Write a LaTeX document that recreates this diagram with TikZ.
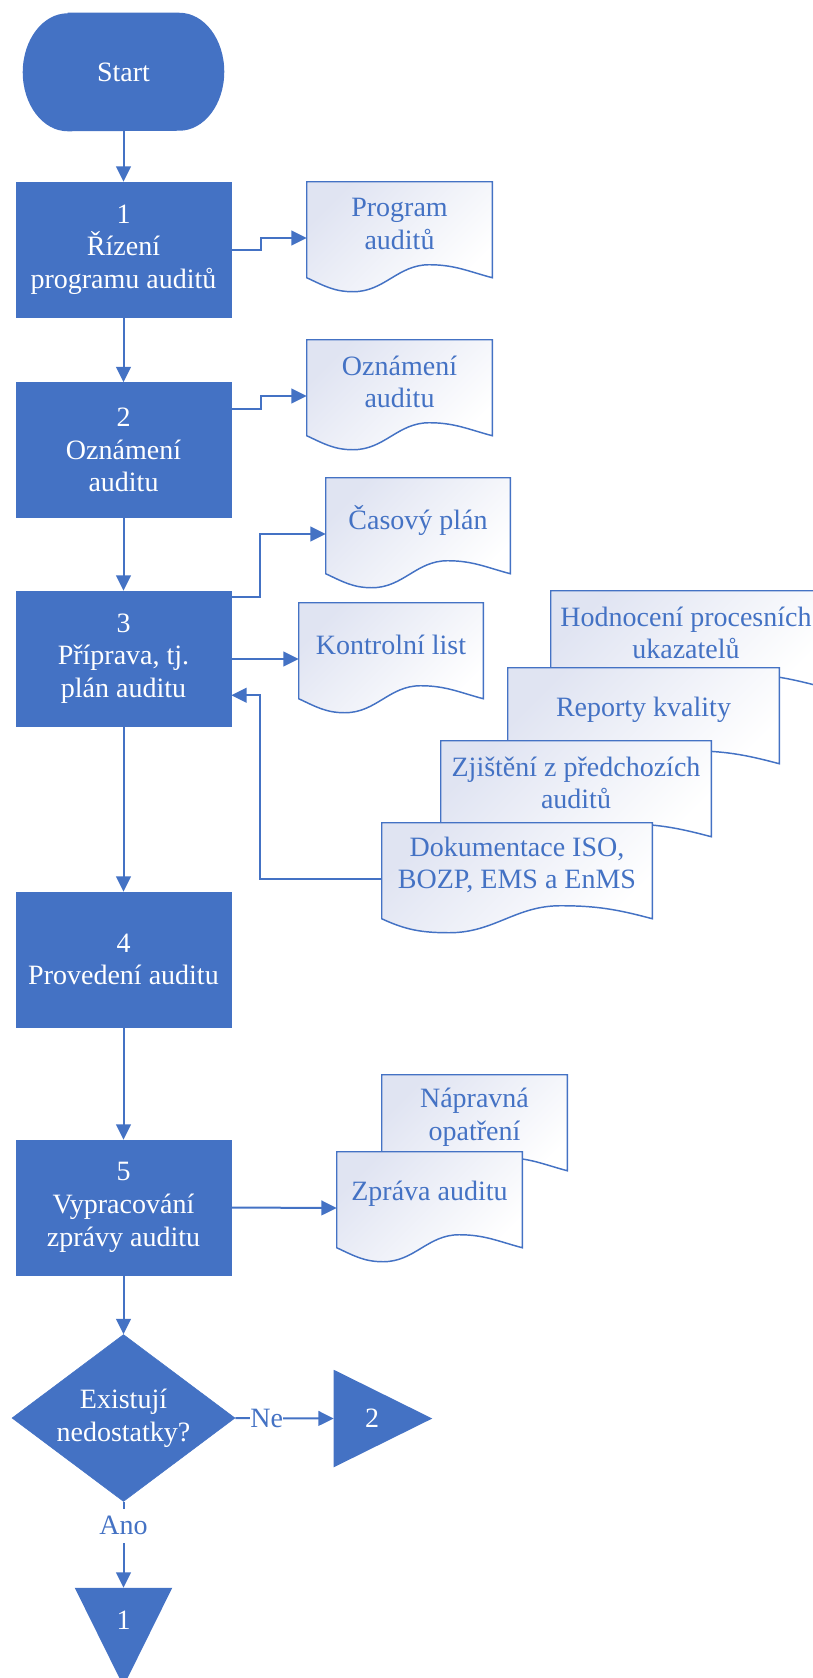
\documentclass[tikz,border=0pt]{standalone}
\usepackage{fontspec}
\setmainfont{Liberation Serif}
\usetikzlibrary{arrows.meta,calc,shapes.geometric}
\definecolor{mainblue}{HTML}{4472C4}
\definecolor{docfill}{HTML}{E0E4F2}
\tikzset{
  base/.style={font=\fontsize{21}{24.5}\selectfont, align=center},
  proc/.style={base, rectangle, fill=mainblue, draw=mainblue, text=white,
    minimum width=161.25pt, minimum height=101.25pt, inner sep=2pt},
  termbox/.style={rectangle, inner sep=0pt, minimum width=150.75pt, minimum height=88.5pt},
  decision/.style={base, diamond, fill=mainblue, draw=mainblue, text=white,
    minimum width=167.25pt, minimum height=125.25pt, inner sep=0pt, shape aspect=1.335},
  docbox/.style={rectangle, minimum width=#1, minimum height=84pt, inner sep=0pt},
  docline/.style={draw=mainblue, line width=1.1pt, top color=docfill,
    bottom color=white, shading angle=45},
  doctext/.style={base, text=mainblue, inner sep=0pt},
  conn/.style={draw=mainblue, line width=1.5pt, -{Triangle[length=11.5pt,width=11pt]}},
  lbl/.style={base, text=mainblue, fill=white, inner sep=0pt},
  tribox/.style={rectangle, inner sep=0pt},
  numtext/.style={base, text=white, inner sep=0pt},
}
\newcommand\docshape[1]{%
  \draw[docline] (#1.north west) -- (#1.north east) -- ($(#1.north east)+(0,96)$)
    to[out=165,in=0] ($(#1.north west)!0.66!(#1.north east)+(0,83)$)
    to[out=180,in=0] ($(#1.north west)!0.25!(#1.north east)+(0,110)$)
    to[out=180,in=-25] ($(#1.north west)+(0,96)$) -- cycle;}
\begin{document}
\begin{tikzpicture}[x=0.75pt,y=-0.75pt]
\useasboundingbox (0,0) rectangle (813,1678);
\clip (0,0) rectangle (813,1678);

% terminal
\node[termbox] (st) at (123.5,72) {};
\fill[mainblue] ($(st.north west)+(45,0)$) -- ($(st.north east)+(-45,0)$)
  arc[start angle=90, end angle=-90, x radius=33.75pt, y radius=44.25pt]
  -- ($(st.south west)+(45,0)$)
  arc[start angle=270, end angle=90, x radius=33.75pt, y radius=44.25pt] -- cycle;
\node[numtext] (stt) at (st.center) {Start};

% main flow
\node[proc] (b1) at (123.5,249.5) {1\\Řízení\\programu auditů};
\node[proc] (b2) at (123.5,450) {2\\Oznámení\\auditu};
\node[proc] (b3) at (123.5,658.5) {3\\Příprava, tj.\\plán auditu};
\node[proc] (b4) at (123.5,959.5) {4\\Provedení auditu};
\node[proc] (b5) at (123.5,1207.5) {5\\Vypracování\\zprávy auditu};
\node[decision] (dia) at (123.5,1418) {Existují\\nedostatky?};

% off-page connectors
\node[tribox, minimum width=73.5pt, minimum height=72.75pt] (t2) at (383,1418.5) {};
\fill[mainblue] (t2.north west) -- (t2.east) -- (t2.south west) -- cycle;
\node[numtext] (t2t) at ([xshift=-8.25pt]t2.center) {2};
\node[tribox, minimum width=72.75pt, minimum height=73.5pt] (t1) at (123.5,1637) {};
\fill[mainblue] (t1.north west) -- (t1.north east) -- (t1.south) -- cycle;
\node[numtext] (t1t) at ([yshift=12.75pt]t1.center) {1};

% documents
\node[docbox=138.75pt] (d1) at (399.5,238) {};
\docshape{d1}
\node[doctext] (d1t) at ([yshift=10.5pt]d1.center) {Program\\auditů};

\node[docbox=138.75pt] (d2) at (399.5,396) {};
\docshape{d2}
\node[doctext] (d2t) at ([yshift=10.5pt]d2.center) {Oznámení\\auditu};

\node[docbox=138pt] (d3) at (418,534) {};
\docshape{d3}
\node[doctext] (d3t) at ([yshift=10.5pt]d3.center) {Časový plán};

\node[docbox=138pt] (d4) at (391,659) {};
\docshape{d4}
\node[doctext] (d4t) at ([yshift=10.5pt]d4.center) {Kontrolní list};

\node[docbox=202.5pt] (d5) at (686,647) {};
\docshape{d5}
\node[doctext] (d5t) at ([yshift=10.5pt]d5.center) {Hodnocení procesních\\ukazatelů};

\node[docbox=203.25pt] (d6) at (643.5,724) {};
\docshape{d6}
\node[doctext] (d6t) at ([yshift=10.5pt]d6.center) {Reporty kvality};

\node[docbox=202.5pt] (d7) at (576,797) {};
\docshape{d7}
\node[doctext] (d7t) at ([yshift=10.5pt]d7.center) {Zjištění z předchozích\\auditů};

\node[docbox=202.5pt] (d8) at (517,879) {};
\docshape{d8}
\node[doctext] (d8t) at ([yshift=10.5pt]d8.center) {Dokumentace ISO,\\BOZP, EMS a EnMS};

\node[docbox=138.75pt] (d9) at (474.5,1131) {};
\docshape{d9}
\node[doctext] (d9t) at ([yshift=10.5pt]d9.center) {Nápravná\\opatření};

\node[docbox=138.75pt] (d10) at (429.5,1208) {};
\docshape{d10}
\node[doctext] (d10t) at ([yshift=10.5pt]d10.center) {Zpráva auditu};

% connectors
\coordinate (b2out) at ($(b2.north east)+(0,27)$);
\coordinate (b3out) at ($(b3.north east)+(0,6)$);
\coordinate (b3in) at ($(b3.south east)+(0,-31)$);

\draw[conn] (st.south) -- (b1.north);
\draw[conn] (b1.east) -- ++(30,0) |- (d1.west);
\draw[conn] (b1.south) -- (b2.north);
\draw[conn] (b2out) -- ++(30,0) |- (d2.west);
\draw[conn] (b2.south) -- (b3.north);
\draw[conn] (b3out) -- ++(29,0) |- (d3.west);
\draw[conn] (b3.east |- d4.west) -- (d4.west);
\draw[conn] (d8.west) -- ++(-122,0) |- (b3in);
\draw[conn] (b3.south) -- (b4.north);
\draw[conn] (b4.south) -- (b5.north);
\draw[conn] (b5.east) -- (d10.west);
\draw[conn] (b5.south) -- (dia.north);
\draw[conn] (dia.east) -- node[lbl, pos=0.32] (ne) {Ne} (t2.west);
\draw[conn] (dia.south) -- node[lbl, pos=0.28, inner xsep=1pt, inner ysep=5.5pt] (ano) {Ano} (t1.north);
\end{tikzpicture}
\end{document}
